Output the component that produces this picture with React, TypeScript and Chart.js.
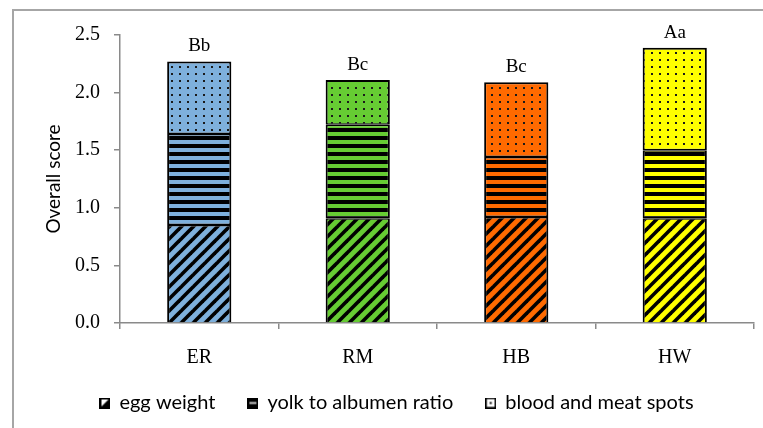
import React, { useEffect, useRef } from "react";
import { Chart, registerables } from "chart.js";

Chart.register(...registerables);

const categories = ["ER", "RM", "HB", "HW"];
const seriesNames = ["egg weight", "yolk to albumen ratio", "blood and meat spots"];
const eggWeight = [0.85, 0.91, 0.92, 0.91];
const yolkRatio = [0.79, 0.81, 0.52, 0.59];
const bloodSpots = [0.63, 0.39, 0.65, 0.89];
const groupLetters = ["Bb", "Bc", "Bc", "Aa"];
const yMin = 0;
const yMax = 2.5;
const yStep = 0.5;
const barColors = ["#7EB0DC", "#66CC33", "#FF6A00", "#FFFF00"];

const SERIF = "'Liberation Serif', serif";
const SANS = "Lato, 'Open Sans', sans-serif";

function tile(w: number, h: number, draw: (c: CanvasRenderingContext2D) => void) {
  const cv = document.createElement("canvas");
  cv.width = w;
  cv.height = h;
  const c = cv.getContext("2d")!;
  draw(c);
  return cv;
}

function diagPattern(ctx: CanvasRenderingContext2D, color: string) {
  const s = 12;
  const cv = tile(s, s, (c) => {
    c.fillStyle = color;
    c.fillRect(0, 0, s, s);
    c.strokeStyle = "#000";
    c.lineWidth = 3.6;
    for (const k of [0, s, 2 * s]) {
      c.beginPath();
      c.moveTo(k - 2 * s, 2 * s);
      c.lineTo(k + 2 * s, -2 * s);
      c.stroke();
    }
  });
  return ctx.createPattern(cv, "repeat")!;
}

function hPattern(ctx: CanvasRenderingContext2D, color: string) {
  const cv = tile(8, 8, (c) => {
    c.fillStyle = color;
    c.fillRect(0, 0, 8, 8);
    c.fillStyle = "#000";
    c.fillRect(0, 0, 8, 4);
  });
  return ctx.createPattern(cv, "repeat")!;
}

function dotPattern(ctx: CanvasRenderingContext2D, color: string) {
  const cv = tile(8, 7, (c) => {
    c.fillStyle = color;
    c.fillRect(0, 0, 8, 7);
    c.fillStyle = "#1a1a1a";
    c.fillRect(3, 3, 2, 2);
  });
  return ctx.createPattern(cv, "repeat")!;
}

function iconEgg() {
  return tile(11, 11, (c) => {
    c.fillStyle = "#fff";
    c.fillRect(0, 0, 11, 11);
    c.fillStyle = "#000";
    c.beginPath();
    c.moveTo(0, 11);
    c.lineTo(11, 0);
    c.lineTo(11, 11);
    c.closePath();
    c.fill();
    c.strokeStyle = "#000";
    c.lineWidth = 2;
    c.strokeRect(1, 1, 9, 9);
  });
}

function iconYolk() {
  return tile(11, 11, (c) => {
    c.fillStyle = "#000";
    c.fillRect(0, 0, 11, 11);
    c.fillStyle = "#c8c8c8";
    c.fillRect(2, 4.5, 7, 2);
  });
}

function iconBlood() {
  return tile(11, 11, (c) => {
    c.fillStyle = "#fff";
    c.fillRect(0, 0, 11, 11);
    c.strokeStyle = "#000";
    c.lineWidth = 1.6;
    c.strokeRect(0.8, 0.8, 9.4, 9.4);
    c.fillStyle = "#000";
    c.fillRect(4.5, 4.5, 2, 2);
  });
}

const letterPlugin = {
  id: "groupLetters",
  afterDatasetsDraw(chart: any) {
    const meta = chart.getDatasetMeta(2);
    const ctx = chart.ctx as CanvasRenderingContext2D;
    ctx.save();
    ctx.font = `19px ${SERIF}`;
    ctx.fillStyle = "#000";
    ctx.textAlign = "center";
    ctx.textBaseline = "alphabetic";
    meta.data.forEach((bar: any, i: number) => {
      ctx.fillText(groupLetters[i], bar.x, bar.y - 10);
    });
    ctx.restore();
  },
};

export default function App() {
  const ref = useRef<HTMLCanvasElement>(null);

  useEffect(() => {
    const canvas = ref.current!;
    const ctx = canvas.getContext("2d")!;
    const icons = [iconEgg(), iconYolk(), iconBlood()];
    const chart = new Chart(canvas, {
      type: "bar",
      data: {
        labels: categories,
        datasets: [
          {
            label: seriesNames[0],
            data: eggWeight,
            backgroundColor: barColors.map((c) => diagPattern(ctx, c)),
            borderWidth: { top: 1.5, left: 2, right: 2, bottom: 0 },
          },
          {
            label: seriesNames[1],
            data: yolkRatio,
            backgroundColor: barColors.map((c) => hPattern(ctx, c)),
            borderWidth: { top: 1.5, left: 2, right: 2, bottom: 1.5 },
          },
          {
            label: seriesNames[2],
            data: bloodSpots,
            backgroundColor: barColors.map((c) => dotPattern(ctx, c)),
            borderWidth: { top: 2, left: 2, right: 2, bottom: 1.5 },
          },
        ].map((d) => ({
          ...d,
          borderColor: "#000",
          borderSkipped: false,
          inflateAmount: 0,
          barPercentage: 0.405,
          categoryPercentage: 1,
        })) as any,
      },
      plugins: [letterPlugin],
      options: {
        animation: false,
        responsive: true,
        maintainAspectRatio: false,
        layout: { padding: { left: 40, right: 9, top: 35, bottom: 12 } },
        plugins: {
          tooltip: { enabled: false },
          legend: {
            position: "bottom",
            maxHeight: 46,
            labels: {
              usePointStyle: true,
              pointStyleWidth: 9,
              boxHeight: 11,
              padding: 23,
              color: "#000",
              font: { family: SANS, size: 20 },
              generateLabels: () =>
                seriesNames.map((name, i) => ({
                  text: i < seriesNames.length - 1 ? name + "\u2002" : name,
                  pointStyle: icons[i] as any,
                  fillStyle: "#000",
                  strokeStyle: "#000",
                  lineWidth: 0,
                  hidden: false,
                  datasetIndex: i,
                })),
            },
          },
        },
        scales: {
          x: {
            stacked: true,
            afterFit: (s: any) => {
              s.height = 47;
            },
            border: { color: "#8a8a8a", width: 1.5 },
            grid: {
              display: true,
              offset: true,
              drawOnChartArea: false,
              drawTicks: true,
              tickLength: 6,
              color: "#8a8a8a",
              lineWidth: 1.5,
            },
            ticks: {
              padding: 17,
              color: "#000",
              font: { family: SERIF, size: 20 },
            },
          },
          y: {
            stacked: true,
            min: yMin,
            max: yMax,
            afterFit: (s: any) => {
              s.width = 80;
            },
            border: { color: "#8a8a8a", width: 1.5 },
            grid: {
              display: true,
              drawOnChartArea: false,
              drawTicks: true,
              tickLength: 6,
              color: "#8a8a8a",
              lineWidth: 1.5,
            },
            ticks: {
              stepSize: yStep,
              padding: 14,
              color: "#000",
              font: { family: SERIF, size: 20 },
              callback: (v: any) => Number(v).toFixed(1),
            },
            title: {
              display: true,
              text: "Overall score",
              color: "#000",
              font: { family: SANS, size: 19 },
              padding: { top: 2, bottom: 0 },
            },
          },
        },
      },
    });
    return () => chart.destroy();
  }, []);

  return (
    <div
      style={{
        position: "fixed",
        left: 0,
        top: 0,
        width: 763,
        height: 428,
        background: "#fff",
        overflow: "hidden",
      }}
    >
      <div
        style={{
          position: "absolute",
          left: 12,
          top: 9,
          width: 800,
          height: 500,
          borderLeft: "2px solid #a6a6a6",
          borderTop: "2px solid #a6a6a6",
        }}
      />
      <canvas ref={ref} style={{ position: "absolute", left: 0, top: 0 }} />
    </div>
  );
}
